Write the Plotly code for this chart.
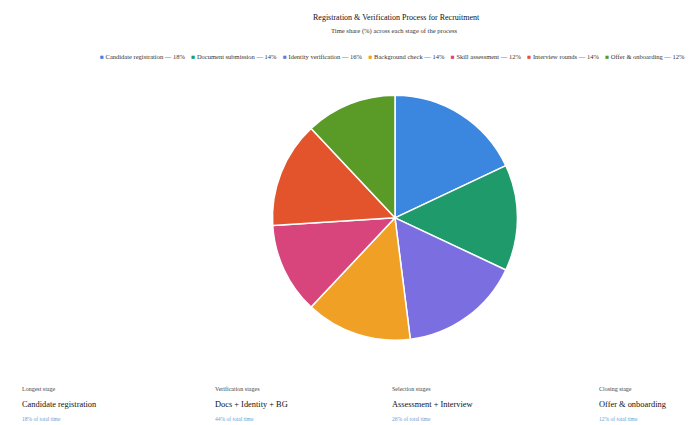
import plotly.graph_objects as go

stages = ["Candidate registration", "Document submission", "Identity verification",
          "Background check", "Skill assessment", "Interview rounds", "Offer & onboarding"]
shares = [18, 14, 16, 14, 12, 14, 12]
colors = ["#3b87e0", "#1f9a6a", "#7b6ee0", "#f0a024", "#d8457c", "#e4542c", "#5a9a26"]

card_labels = ["Longest stage", "Verification stages", "Selection stages", "Closing stage"]
card_values = ["Candidate registration", "Docs + Identity + BG", "Assessment + Interview", "Offer & onboarding"]
card_shares = [max(shares), sum(shares[1:4]), sum(shares[4:6]), shares[6]]

FONT = "Liberation Serif"
W, H = 696, 425

fig = go.Figure(go.Pie(
    labels=stages, values=shares, sort=False, direction="clockwise", rotation=0,
    marker=dict(colors=colors, line=dict(color="white", width=1.5)),
    textinfo="none", hoverinfo="label+percent",
    domain=dict(x=[0.3915, 0.7435], y=[0.19, 0.785]),
    showlegend=False,
))


def ann(text, x, y, size, color, xanchor="center"):
    return dict(text=text, x=x / W, y=1 - y / H, xref="paper", yref="paper",
                xanchor=xanchor, yanchor="middle", showarrow=False,
                font=dict(family=FONT, size=size, color=color))


legend_parts = [f"<span style='color:{c}'>■</span> {s} — {v}%" for s, v, c in zip(stages, shares, colors)]
annotations = [
    ann("Registration & Verification Process for Recruitment", 396, 17, 8, "#111"),
    ann("Time share (%) across each stage of the process", 394, 31, 6.6, "#333"),
    ann("    ".join(legend_parts), 392, 56, 6.5, "#333"),
]

card_x = [20, 213, 390, 597]
for x, lab, val, sh in zip(card_x, card_labels, card_values, card_shares):
    annotations.append(ann(lab, x, 389, 6, "#444", "left"))
    annotations.append(ann(val, x, 404, 8.4, "#111", "left"))
    annotations.append(ann(f"{sh}% of total time", x, 419, 5.5, "#6b9bd2", "left"))

fig.update_layout(
    width=W, height=H,
    margin=dict(l=0, r=0, t=0, b=0),
    paper_bgcolor="white", plot_bgcolor="white",
    annotations=annotations,
    font=dict(family=FONT),
)

fig.write_html("out.html", config={"displayModeBar": False},
               post_script="document.body.style.margin='0';document.body.style.overflow='hidden';")
